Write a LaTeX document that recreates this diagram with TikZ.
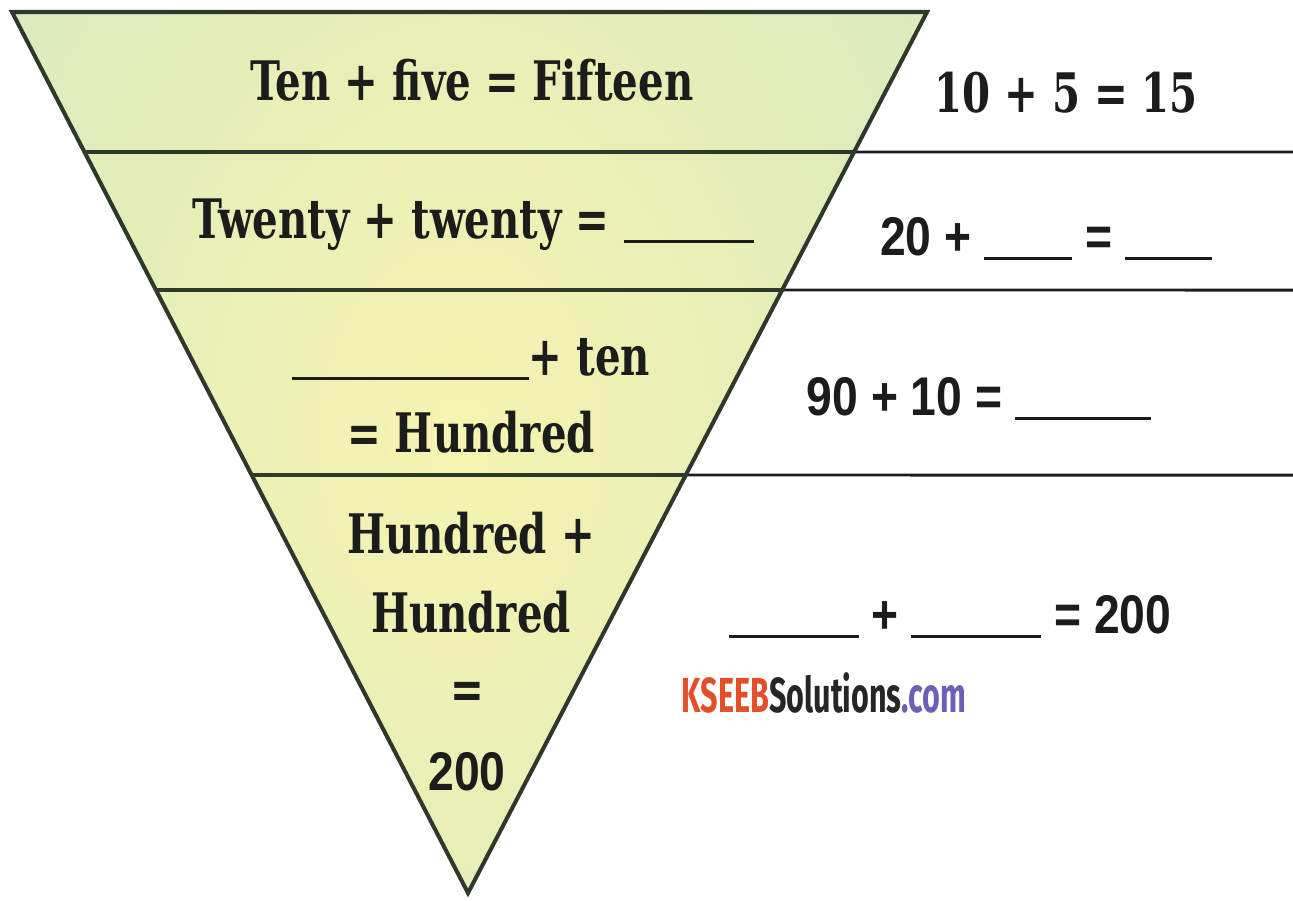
\documentclass[tikz,border=0pt]{standalone}
\usepackage{fontspec}
\setmainfont{DejaVu Serif}[FakeStretch=0.74]
\newfontfamily\numfont{Liberation Sans}[FakeStretch=0.85]
\newfontfamily\markfont{Fira Sans}[FakeStretch=0.62]
\usetikzlibrary{calc}

\definecolor{bandgreen}{HTML}{CBE4C6}
\definecolor{bandyellow}{HTML}{F6F4B0}
\definecolor{edgegray}{HTML}{2E382B}
\definecolor{inkblack}{HTML}{1C1C1C}
\definecolor{kseebred}{HTML}{E1502A}
\definecolor{dotcom}{HTML}{6C60B8}

\newcommand{\blank}[1]{\rule[-3pt]{#1}{1.7pt}}

\tikzset{
  word/.style={font={\fontsize{31}{37}\selectfont\bfseries}, text=inkblack, inner sep=0pt, anchor=base},
  numtext/.style={word, font={\fontsize{31}{37}\selectfont\numfont\bfseries}},
  trioutline/.style={draw=edgegray, line width=2.3pt, line join=miter},
  rowline/.style={draw=inkblack, line width=1.7pt}
}

\begin{document}
\begin{tikzpicture}[x=0.02cm,y=-0.02cm]
  \useasboundingbox (0,0) rectangle (1293,900);
  \coordinate (tl) at (12,12);
  \coordinate (tr) at (927,12);
  \coordinate (tip) at (468,893);

  % shaded triangle
  \begin{scope}
    \clip (tl) -- (tr) -- (tip) -- cycle;
    \shade[inner color=bandyellow, outer color=bandgreen] (460,440) ellipse (900 and 1250);
  \end{scope}

  % rows
  \foreach \y/\n in {152/a,290/b,475/c}{
    \coordinate (l\n) at ($(tl)!{(\y-12)/881}!(tip)$);
    \coordinate (r\n) at ($(tr)!{(\y-12)/881}!(tip)$);
    \coordinate (e\n) at (1293,\y);
    \draw[trioutline] (l\n) -- (r\n);
    \draw[rowline] (r\n) -- (e\n);
  }
  \draw[trioutline] (tl) -- (tr) -- (tip) -- cycle;

  \node[word] (r1l) at (472,100) {Ten + five = Fifteen};
  \node[word] (r1r) at (1066,112) {10 + 5 = 15};

  \node[word] (r2l) at (473,238) {Twenty + twenty = \blank{2.6cm}};
  \node[numtext] (r2r) at (1046,255) {20 + \blank{1.76cm} = \blank{1.74cm}};

  \node[word] (r3a) at (471,375) {\blank{4.74cm}+ ten};
  \node[word] (r3b) at (471,452) {= Hundred};
  \node[numtext] (r3r) at (979,415) {90 + 10 = \blank{2.72cm}};

  \node[word] (r4a) at (471,553) {Hundred +};
  \node[word] (r4b) at (471,632) {Hundred};
  \node[word] (r4c) at (467,708) {=};
  \node[numtext] (r4d) at (467,790) {200};
  \node[numtext] (r4r) at (950,633) {\blank{2.6cm} + \blank{2.6cm} = 200};

  \node[anchor=base, inner sep=0pt, font={\fontsize{28}{32}\selectfont\markfont\bfseries}, text=black!85] (mark) at (824,712)
    {\textcolor{kseebred}{KSEEB}Solutions\textcolor{dotcom}{.com}};
\end{tikzpicture}
\end{document}
